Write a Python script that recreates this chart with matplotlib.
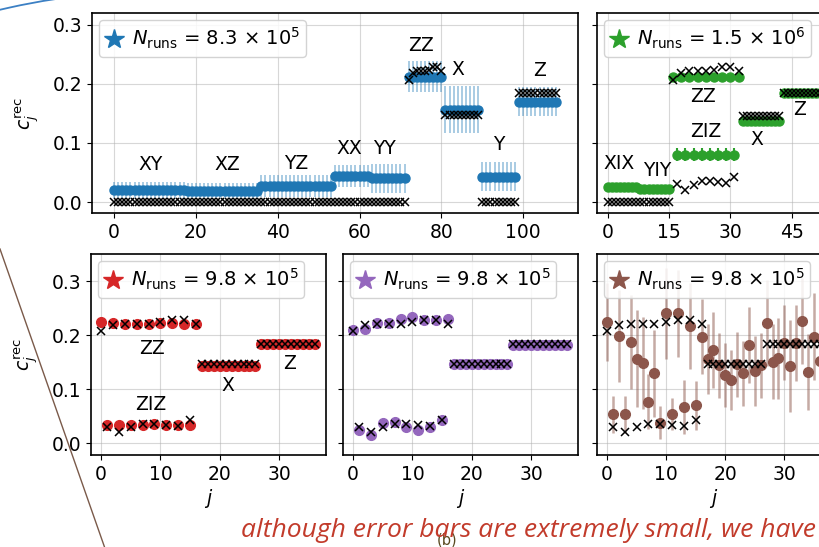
import matplotlib.pyplot as plt
import numpy as np
from matplotlib.lines import Line2D
from matplotlib.patches import Arc

# ---- ideal (crosses) values shared by the ZZ / ZIZ / X / Z blocks
zz_ideal = [0.207, 0.219, 0.221, 0.221, 0.221, 0.224, 0.228, 0.228, 0.221]
ziz_ideal = [0.030, 0.021, 0.029, 0.035, 0.036, 0.034, 0.032, 0.042]
x_ideal = 0.146
z_ideal = 0.184

# ---- top-left panel (blocks of Pauli strings, j = 0..108)
tl_names = ['XY', 'XZ', 'YZ', 'XX', 'YY', 'ZZ', 'X', 'Y', 'Z']
tl_sizes = [18, 18, 18, 9, 9, 9, 9, 9, 10]
tl_values = [0.020, 0.019, 0.027, 0.044, 0.040, 0.212, 0.156, 0.043, 0.170]
tl_errors = [0.014, 0.013, 0.019, 0.019, 0.024, 0.026, 0.040, 0.025, 0.025]
tl_ideal = [0.0, 0.0, 0.0, 0.0, 0.0, zz_ideal, 0.148, 0.0, z_ideal]
tl_label_xy = [(8.8, 0.063), (27.6, 0.063), (44.6, 0.066), (57.6, 0.091), (66, 0.091),
               (75, 0.265), (84, 0.225), (94, 0.097), (104, 0.222)]

# ---- top-right panel (j = 0..52)
tr_xix, tr_yiy = 0.026, 0.022
tr_zz, tr_ziz, tr_x, tr_z = 0.212, 0.080, 0.138, 0.185
tr_ziz_err = 0.011
tr_names = ['XIX', 'YIY', 'ZZ', 'ZIZ', 'X', 'Z']
tr_label_xy = [(2.7, 0.066), (12.2, 0.054), (23.4, 0.178), (23.9, 0.119), (36.6, 0.105), (47, 0.156)]

# ---- bottom panels (j = 0..36): ZZ at even j 0..16, ZIZ at odd j 1..15, X 17..26, Z 27..36
red_zz = [0.224, 0.222, 0.221, 0.221, 0.221, 0.222, 0.222, 0.221, 0.221]
red_ziz = [0.033, 0.033, 0.034, 0.034, 0.035, 0.034, 0.034, 0.033]
red_x, red_z = 0.142, 0.184

purple_zz = [0.209, 0.211, 0.222, 0.223, 0.230, 0.234, 0.227, 0.228, 0.230]
purple_ziz = [0.024, 0.015, 0.038, 0.039, 0.030, 0.025, 0.030, 0.043]
purple_x, purple_z = 0.147, 0.181

brown = [0.224, 0.053, 0.199, 0.053, 0.188, 0.156, 0.148, 0.077, 0.129, 0.038,
         0.240, 0.054, 0.240, 0.066, 0.217, 0.070, 0.197,
         0.155, 0.172, 0.144, 0.126, 0.117, 0.146, 0.129, 0.181, 0.133, 0.144,
         0.222, 0.151, 0.157, 0.186, 0.143, 0.185, 0.226, 0.132, 0.197, 0.152]
brown_err = [0.072, 0.035, 0.085, 0.034, 0.087, 0.090, 0.085, 0.050, 0.080, 0.030,
             0.085, 0.030, 0.080, 0.050, 0.080, 0.045, 0.070,
             0.065, 0.070, 0.060, 0.060, 0.055, 0.060, 0.060, 0.070, 0.065, 0.060,
             0.080, 0.070, 0.075, 0.070, 0.085, 0.070, 0.080, 0.070, 0.080, 0.070]
bl_names = ['ZZ', 'ZIZ', 'X', 'Z']
bl_label_xy = [(8.6, 0.176), (8.3, 0.072), (21.4, 0.107), (31.7, 0.148)]

runs = ['8.3', '1.5', '9.8', '9.8', '9.8']
runs_exp = ['5', '6', '5', '5', '5']

blue, green, red, purple, brn = '#1f77b4', '#2ca02c', '#d62728', '#9467bd', '#8c564b'
FS = 13.5

W, H = 819, 547
fig = plt.figure(figsize=(8.19, 5.47), dpi=100)


def box(l, t, r, b):
    return [l / W, 1 - b / H, (r - l) / W, (b - t) / H]


def style(ax, ylim, xlim, left_labels):
    ax.set_ylim(*ylim)
    ax.set_xlim(*xlim)
    ax.grid(True, color='#b0b0b0', alpha=0.5, lw=0.8)
    ax.set_axisbelow(True)
    ax.tick_params(labelsize=FS, labelleft=left_labels)
    ax.set_yticks([0.0, 0.1, 0.2, 0.3])
    for s in ax.spines.values():
        s.set_linewidth(1.2)


def legend(ax, color, k):
    h = Line2D([], [], ls='none', marker='*', color=color, markersize=15)
    ax.legend([h], [r'$N_{\mathrm{runs}}$ = %s $\times$ 10$^{%s}$' % (runs[k], runs_exp[k])],
              loc='upper left', fontsize=14, handlelength=1.0, handletextpad=0.4,
              borderaxespad=0.35, borderpad=0.3, framealpha=0.85)


def crosses(ax, j, v):
    ax.plot(j, v, ls='none', marker='x', color='black', ms=5.5, mew=1.1, zorder=5)


# ---------------- top-left
ax = fig.add_axes(box(92, 13, 578, 213))
j0 = 0
tl_j, tl_v, tl_e, tl_c = [], [], [], []
for n, v, e, c in zip(tl_sizes, tl_values, tl_errors, tl_ideal):
    jj = np.arange(j0, j0 + n)
    tl_j.append(jj)
    tl_v.append(np.repeat(v, n))
    tl_e.append(np.repeat(e, n))
    tl_c.append(np.array(c) if isinstance(c, list) else np.repeat(c, n))
    j0 += n
tl_j, tl_v, tl_e, tl_c = map(np.concatenate, (tl_j, tl_v, tl_e, tl_c))
ax.errorbar(tl_j, tl_v, yerr=tl_e, fmt='o', color=blue, ms=6.5,
            ecolor=(0.12, 0.47, 0.71, 0.45), elinewidth=1.2, zorder=3)
crosses(ax, tl_j, tl_c)
for name, (x, y) in zip(tl_names, tl_label_xy):
    ax.text(x, y, name, fontsize=FS, ha='center', va='center')
style(ax, (-0.0186, 0.320), (-5.4, 113.4), True)
ax.set_xticks([0, 20, 40, 60, 80, 100])
ax.set_ylabel(r'$c_j^{\mathrm{rec}}$', fontsize=FS, labelpad=8)
legend(ax, blue, 0)

# ---------------- top-right
ax = fig.add_axes(box(597, 13, 831, 213))
j_xix = np.arange(0, 8)
j_yiy = np.arange(8, 16)
j_zz = np.arange(16, 33, 2)
j_ziz = np.arange(17, 32, 2)
j_x = np.arange(33, 43)
j_z = np.arange(43, 53)
kw = dict(fmt='o', color=green, ms=6.5, ecolor=green, elinewidth=1.5, zorder=3)
ax.errorbar(j_xix, np.repeat(tr_xix, 8), yerr=0.004, **kw)
ax.errorbar(j_yiy, np.repeat(tr_yiy, 8), yerr=0.004, **kw)
ax.errorbar(j_zz, np.repeat(tr_zz, 9), yerr=0.004, **kw)
ax.errorbar(j_ziz, np.repeat(tr_ziz, 8), yerr=tr_ziz_err, **kw)
ax.errorbar(j_x, np.repeat(tr_x, 10), yerr=0.004, **kw)
ax.errorbar(j_z, np.repeat(tr_z, 10), yerr=0.003, **kw)
crosses(ax, np.concatenate([j_xix, j_yiy]), np.zeros(16))
crosses(ax, j_zz, zz_ideal)
crosses(ax, j_ziz, ziz_ideal)
crosses(ax, j_x, np.repeat(x_ideal, 10))
crosses(ax, j_z, np.repeat(z_ideal, 10))
for name, (x, y) in zip(tr_names, tr_label_xy):
    ax.text(x, y, name, fontsize=FS, ha='center', va='center')
style(ax, (-0.0186, 0.320), (-2.6, 54.6), False)
ax.set_xticks([0, 15, 30, 45])
legend(ax, green, 1)

# ---------------- bottom panels
b_zz = np.arange(0, 17, 2)
b_ziz = np.arange(1, 16, 2)
b_x = np.arange(17, 27)
b_z = np.arange(27, 37)
b_all = np.arange(0, 37)

boxes = [box(91, 254, 326, 455), box(343, 254, 578, 455), box(597, 254, 831, 455)]
for k, (bx, col) in enumerate(zip(boxes, [red, purple, brn])):
    ax = fig.add_axes(bx)
    if k == 0:
        zz, ziz, xv, zv = red_zz, red_ziz, red_x, red_z
    elif k == 1:
        zz, ziz, xv, zv = purple_zz, purple_ziz, purple_x, purple_z
    if k < 2:
        ax.plot(b_zz, zz, 'o', color=col, ms=7, zorder=3)
        ax.plot(b_ziz, ziz, 'o', color=col, ms=7, zorder=3)
        ax.plot(b_x, np.repeat(xv, 10), 'o', color=col, ms=7, zorder=3)
        ax.plot(b_z, np.repeat(zv, 10), 'o', color=col, ms=7, zorder=3)
    else:
        ax.errorbar(b_all, brown, yerr=brown_err, fmt='o', color=col, ms=7,
                    ecolor=(0.55, 0.34, 0.29, 0.5), elinewidth=1.8, zorder=3)
    crosses(ax, b_zz, zz_ideal)
    crosses(ax, b_ziz, ziz_ideal)
    crosses(ax, b_x, np.repeat(x_ideal, 10))
    crosses(ax, b_z, np.repeat(z_ideal, 10))
    style(ax, (-0.022, 0.350), (-1.7, 37.9), k == 0)
    ax.set_xticks([0, 10, 20, 30])
    ax.set_xlabel(r'$j$', fontsize=FS, labelpad=2)
    if k == 0:
        ax.set_ylabel(r'$c_j^{\mathrm{rec}}$', fontsize=FS, labelpad=8)
        for name, (x, y) in zip(bl_names, bl_label_xy):
            ax.text(x, y, name, fontsize=FS, ha='center', va='center')
    legend(ax, col, 2 + k)

# ---------------- slide decorations
fig.add_artist(Line2D([0, 104.5 / W], [1 - 249 / H, 0], color='#7a5a4a', lw=1.0, zorder=10))
fig.add_artist(Arc((161, H - 691), 1400, 1400, theta1=95, theta2=110,
                   transform=None, color='#3c80c4', lw=1.3))
fig.text(447 / W, 1 - 540 / H, '(b)', fontsize=10.5, color='#5a4a20',
         ha='center', va='center', zorder=1)
note = fig.text(241 / W, 1 - 537 / H, 'although error bars are extremely small, we have',
                fontsize=16, family='Open Sans', style='italic', color='#c23b2b',
                ha='left', va='baseline', zorder=5)
# stretch the slide caption to the width it covers on the slide
r = fig.canvas.get_renderer()
wpx = note.get_window_extent(r).width
note.set_fontsize(16 * 575 / wpx)

fig.savefig('out.png', dpi=100)
